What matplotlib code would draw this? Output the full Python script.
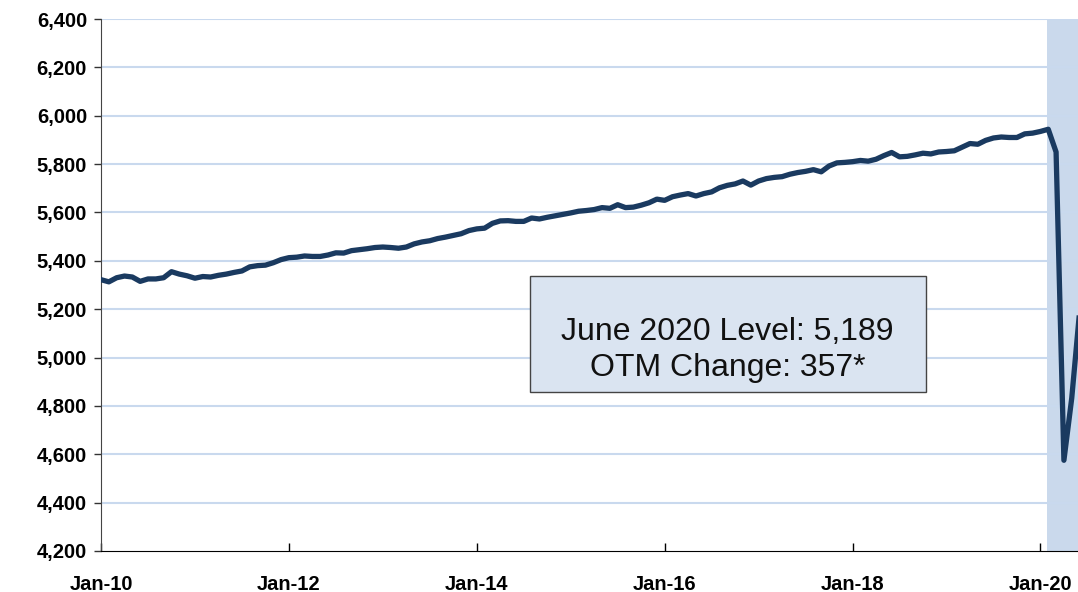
import numpy as np
import matplotlib
matplotlib.use("Agg")
import matplotlib.pyplot as plt
from matplotlib.patches import Rectangle

# monthly employment (thousands), Jan-2010 .. Jun-2020
values = [
    5322, 5313, 5330, 5337, 5333, 5315, 5325, 5325, 5330, 5355, 5345, 5338,
    5328, 5335, 5333, 5340, 5345, 5352, 5358, 5375, 5380, 5382, 5392, 5405,
    5413, 5415, 5420, 5418, 5418, 5424, 5433, 5432, 5442, 5446, 5450, 5455,
    5457, 5455, 5452, 5457, 5470, 5478, 5483, 5492, 5498, 5505, 5512, 5525,
    5532, 5535, 5555, 5565, 5566, 5563, 5563, 5577, 5573, 5580, 5586, 5592,
    5598, 5605, 5608, 5612, 5620, 5617, 5632, 5620, 5622, 5630, 5640, 5655,
    5650, 5665, 5672, 5678, 5668, 5678, 5685, 5702, 5712, 5718, 5730, 5713,
    5730, 5740, 5745, 5748, 5758, 5765, 5770, 5777, 5768, 5792, 5805, 5807,
    5810, 5815, 5812, 5820, 5835, 5848, 5830, 5832, 5838, 5845, 5842, 5850,
    5852, 5855, 5870, 5885, 5882, 5898, 5908, 5912, 5910, 5910, 5925, 5928,
    5935, 5944, 5850, 4575, 4832, 5189,
]
tick_months = [0, 24, 48, 72, 96, 120]
tick_labels = ["Jan-10", "Jan-12", "Jan-14", "Jan-16", "Jan-18", "Jan-20"]
y_ticks = list(range(4200, 6401, 200))
shade_start, shade_end = 121, 125
box_text = "June 2020 Level: 5,189\nOTM Change: 357*"

months = np.arange(len(values))

plt.rcParams['font.family'] = ['Liberation Sans', 'DejaVu Sans']

fig = plt.figure(figsize=(10.78, 5.92), dpi=100)
ax = fig.add_axes([0.0937, 0.0693, 0.9063, 0.8986])

# recession-style shading over the 2020 months
ax.axvspan(shade_start - 0.2, shade_end + 1, color='#cad9ec', zorder=0, lw=0)
for y in y_ticks[1:]:
    ax.axhline(y, color='#c9d9ee', lw=1.5, zorder=1)

ax.plot(months, values, color='#1a3a60', lw=3.8, zorder=3)

ax.set_xlim(0, 124.8)
ax.set_ylim(4200, 6400)
ax.set_yticks(y_ticks)
ax.set_yticklabels([f"{v:,}" for v in y_ticks], fontsize=14.5, fontweight='bold')
ax.set_xticks(tick_months)
ax.set_xticklabels(tick_labels, fontsize=14.5, fontweight='bold')

ax.tick_params(axis='y', direction='out', length=5, width=1, pad=5, color='#333333')
ax.tick_params(axis='x', direction='in', length=6, width=1, pad=17)
for s in ['top', 'right']:
    ax.spines[s].set_visible(False)
ax.spines['left'].set_color('#444444')
ax.spines['bottom'].set_color('black')

box = Rectangle((0.439, 0.299), 0.405, 0.218, transform=ax.transAxes,
                facecolor='#dae4f1', edgecolor='#444444', lw=1, zorder=4)
ax.add_patch(box)
ax.text(0.6415, 0.378, box_text, transform=ax.transAxes, ha='center', va='center',
        fontsize=23, linespacing=1.25, color='#111111', zorder=5)

fig.savefig("out.png", dpi=100)
